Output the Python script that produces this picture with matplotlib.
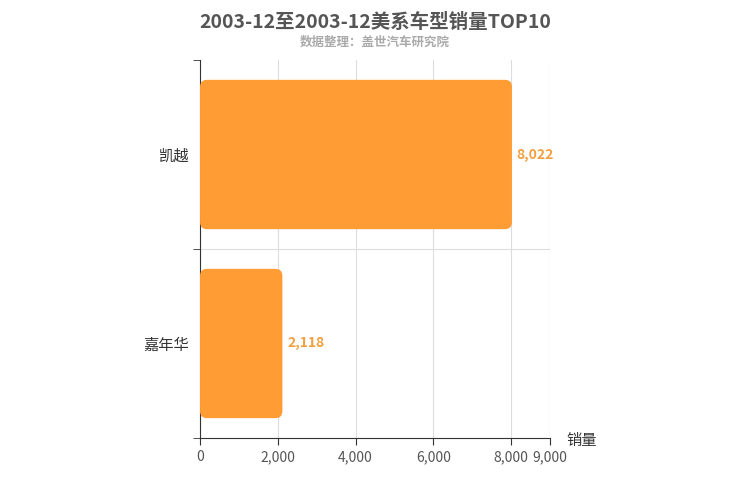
import matplotlib
matplotlib.use("Agg")
import matplotlib.pyplot as plt
from matplotlib.patches import FancyBboxPatch

plt.rcParams['font.family'] = ['Noto Sans CJK SC', 'DejaVu Sans']

models = ['嘉年华', '凯越']
sales = [2118, 8022]
xticks = [0, 2000, 4000, 6000, 8000, 9000]

fig = plt.figure(figsize=(7.5, 5), dpi=100)
ax = fig.add_axes([0.2667, 0.124, 0.4666, 0.756])

bars = ax.barh(range(len(models)), sales, height=0.79, color='none')
xpp = 9000 / 350.0
ypp = 2 / 378.0
for b, v in zip(bars, sales):
    x, y, w, h = b.get_x(), b.get_y(), b.get_width(), b.get_height()
    p = FancyBboxPatch((x, y), w, h, boxstyle="round,pad=0,rounding_size=%f" % (7 * xpp),
                       mutation_aspect=ypp / xpp, fc='#ff9c33', ec='none', zorder=3)
    ax.add_patch(p)
    ax.text(v + 120, y + h / 2, f'{v:,}', va='center', ha='left',
            color='#f0a040', fontsize=10, fontweight='bold')

ax.set_xlim(0, 9000)
ax.set_ylim(-0.5, 1.5)
ax.set_xticks(xticks)
ax.set_xticklabels([f'{t:,}' for t in xticks], fontsize=10, color='#555555')
ax.set_yticks(range(len(models)))
ax.set_yticklabels(models, fontsize=11, color='#333333')
ax.set_yticks([-0.5, 0.5, 1.5], minor=True)
ax.tick_params(axis='y', which='major', length=0, pad=8)
ax.tick_params(axis='y', which='minor', length=5, color='#333333')
ax.tick_params(axis='x', length=5, color='#333333')
ax.grid(axis='x', color='#dddddd', lw=0.8, zorder=0)
ax.axhline(0.5, color='#dddddd', lw=0.8, zorder=0)
ax.axvline(9000, color='#dddddd', lw=0.8, zorder=0)
for s in ['top', 'right']:
    ax.spines[s].set_visible(False)
ax.spines['left'].set_color('#333333')
ax.spines['bottom'].set_color('#333333')

fig.text(0.5, 0.955, '2003-12至2003-12美系车型销量TOP10', ha='center', va='center',
         fontsize=14, fontweight='bold', color='#555555')
fig.text(0.5, 0.915, '数据整理：盖世汽车研究院', ha='center', va='center',
         fontsize=9, color='#aaaaaa', fontweight='bold')
fig.text(0.755, 0.118, '销量', ha='left', va='center', fontsize=11, color='#333333')

fig.savefig('out.png', dpi=100)
